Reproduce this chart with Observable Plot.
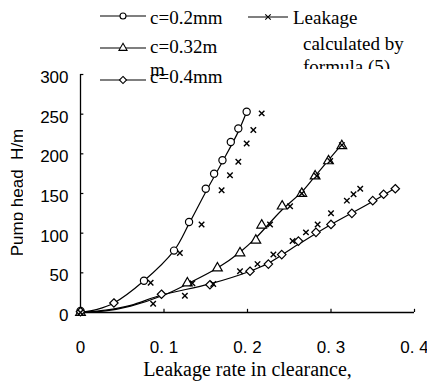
<!DOCTYPE html>
<html><head><meta charset="utf-8">
<script src="https://cdn.jsdelivr.net/npm/d3@7"></script>
<script src="https://cdn.jsdelivr.net/npm/@observablehq/plot@0.6"></script>
<style>
html,body{margin:0;padding:0;background:#fff;}
#wrap{position:relative;width:427px;height:382px;overflow:hidden;background:#fff;}
#wrap svg.plot{position:absolute;left:0;top:0;}
.lg{position:absolute;font-family:"Liberation Serif",serif;font-size:19px;color:#000;white-space:nowrap;line-height:1;}
.sym{position:absolute;}
</style></head>
<body><div id="wrap"></div>
<script>
// ---- data ----
const xTicks = [0, 0.1, 0.2, 0.3, 0.4];
const xTickLabels = ["0", "0. 1", "0. 2", "0. 3", "0. 4"];
const yTicks = [0, 50, 100, 150, 200, 250, 300];
const yTickLabels = ["0", "50", "100", "150", "200", "250", "300"];

const seriesNames = ["c=0.2mm", "c=0.32mm", "c=0.4mm", "Leakage calculated by formula (5)"];

// measured points c=0.2mm (circles)
const c02X = [0, 0.076, 0.112, 0.13, 0.15, 0.16, 0.17, 0.18, 0.189, 0.199];
const c02Y = [2, 40, 78, 114, 156, 175, 192, 215, 232, 253];
// measured points c=0.32mm (triangles)
const c032X = [0, 0.128, 0.164, 0.191, 0.21, 0.217, 0.2415, 0.265, 0.281, 0.297, 0.313];
const c032Y = [0, 37, 56, 75, 91, 110, 134, 150, 172, 191, 210];
// measured points c=0.4mm (diamonds)
const c04X = [0, 0.04, 0.097, 0.155, 0.203, 0.225, 0.241, 0.261, 0.282, 0.300, 0.325, 0.350, 0.363, 0.377];
const c04Y = [1, 12, 23, 35, 52, 61, 73, 90, 101, 111, 125, 141, 149, 156];
// leakage calculated by formula (5) (crosses)
const calcX = [0, 0.087, 0.084, 0.119, 0.145, 0.169, 0.179, 0.189, 0.199, 0.207, 0.217, 0.125, 0.134, 0.159, 0.191, 0.212, 0.231, 0.254, 0.270, 0.284, 0.300, 0.319, 0.327, 0.335, 0.227, 0.251, 0.265, 0.283, 0.299, 0.313];
const calcY = [0, 11, 37.5, 75, 111, 154, 173, 190, 213, 230, 251, 21, 37, 36, 52, 61, 73, 90, 101, 111, 125, 141, 149, 156, 111, 134, 150, 172, 191, 211];

// fitted curves
const fit02X = [0, 0.02, 0.04, 0.076, 0.112, 0.13, 0.15, 0.17, 0.189, 0.199];
const fit02Y = [0, 4, 12, 40, 78, 112, 152, 190, 228, 253];
const fit032X = [0, 0.03, 0.06, 0.1, 0.128, 0.164, 0.191, 0.21, 0.24, 0.265, 0.281, 0.297, 0.313];
const fit032Y = [0, 2, 8, 22, 36, 56, 76, 94, 128, 152, 172, 192, 212];
const fit04X = [0, 0.03, 0.06, 0.097, 0.155, 0.203, 0.225, 0.261, 0.3, 0.35, 0.377];
const fit04Y = [0, 3, 9, 22, 36, 52, 62, 86, 111, 140, 157];

const xLabel = "Leakage rate in clearance,";
const yLabel = "Pump head  H/m";

// ---- build ----
const pts = (xs, ys) => xs.map((x, i) => ({x, y: ys[i]}));
const c02 = pts(c02X, c02Y), c032 = pts(c032X, c032Y), c04 = pts(c04X, c04Y), calc = pts(calcX, calcY);
const f02 = pts(fit02X, fit02Y), f032 = pts(fit032X, fit032Y), f04 = pts(fit04X, fit04Y);

const chart = Plot.plot({
  width: 427, height: 382,
  marginLeft: 80, marginRight: 13, marginTop: 74, marginBottom: 70,
  x: {domain: [0, 0.4]},
  y: {domain: [0, 300]},
  style: {fontFamily: "Liberation Sans, Arial, sans-serif", background: "white", color: "black"},
  marks: [
    Plot.ruleX([0], {stroke: "black", strokeWidth: 1.3}),
    Plot.ruleY([0], {stroke: "black", strokeWidth: 1.3}),
    Plot.ruleY(yTicks, {y: d => d, x1: 0, x2: 0.004, stroke: "black", strokeWidth: 1.2}),
    Plot.ruleX(xTicks, {x: d => d, y1: 0, y2: 4, stroke: "black", strokeWidth: 1.2}),
    Plot.axisX(xTicks, {tickSize: 0, tickPadding: 28, fontSize: 17, label: null,
      tickFormat: d => xTickLabels[xTicks.indexOf(d)]}),
    Plot.axisY(yTicks, {tickSize: 0, tickPadding: 12, fontSize: 17, dy: 3, label: null,
      tickFormat: d => yTickLabels[yTicks.indexOf(d)]}),
    Plot.line(f02, {x: "x", y: "y", curve: "catmull-rom", stroke: "black", strokeWidth: 1.2}),
    Plot.line(f032, {x: "x", y: "y", curve: "catmull-rom", stroke: "black", strokeWidth: 1.2}),
    Plot.line(f04, {x: "x", y: "y", curve: "catmull-rom", stroke: "black", strokeWidth: 1.2}),
    Plot.dot(c02, {x: "x", y: "y", symbol: "circle", r: 3.6, stroke: "black", fill: "white", strokeWidth: 1.2}),
    Plot.dot(c032, {x: "x", y: "y", symbol: "triangle", r: 3.6, stroke: "black", fill: "white", strokeWidth: 1.2}),
    Plot.dot(c04, {x: "x", y: "y", symbol: "diamond2", r: 3.8, stroke: "black", fill: "white", strokeWidth: 1.2}),
    Plot.dot(calc, {x: "x", y: "y", symbol: "times", r: 2.6, stroke: "black", strokeWidth: 1.4}),
    Plot.text([xLabel], {frameAnchor: "bottom", dy: 63, fontSize: 20, fontFamily: "Liberation Serif, serif", text: d => d})
  ]
});
chart.classList.add("plot");
const wrap = document.getElementById("wrap");
wrap.appendChild(chart);

// ---- y label (clipped like the original) ----
const yl = document.createElement("div");
yl.style.cssText = "position:absolute;left:0;top:100px;width:23px;height:180px;overflow:hidden;";
const ylt = document.createElement("div");
ylt.textContent = yLabel;
ylt.style.cssText = "position:absolute;left:-58px;top:84px;width:150px;text-align:center;transform:rotate(-90deg);font-family:'Liberation Sans',Arial,sans-serif;font-size:17px;line-height:1;white-space:pre;";
yl.appendChild(ylt);
wrap.appendChild(yl);

// ---- legend ----
const symbols = ["circle", "triangle", "diamond2", "times"];
function legendKey(left, top, w, symName, r) {
  const s = d3.create("svg").attr("class", "sym").attr("width", w).attr("height", 12)
    .style("left", left + "px").style("top", (top - 6) + "px");
  s.append("line").attr("x1", 0).attr("x2", w).attr("y1", 6).attr("y2", 6).attr("stroke", "black").attr("stroke-width", 1.2);
  const map = {circle: d3.symbolCircle, triangle: d3.symbolTriangle, diamond2: d3.symbolDiamond2, times: d3.symbolTimes};
  s.append("path").attr("transform", `translate(${w/2},6)`)
    .attr("d", d3.symbol(map[symName], Math.PI * r * r)())
    .attr("fill", symName === "times" ? "none" : "white").attr("stroke", "black").attr("stroke-width", 1.1);
  wrap.appendChild(s.node());
}
function legendText(left, top, txt) {
  const d = document.createElement("div");
  d.className = "lg";
  d.style.left = left + "px"; d.style.top = top + "px";
  d.textContent = txt;
  wrap.appendChild(d);
  return d;
}
legendKey(100, 16, 46, symbols[0], 3);
legendText(150, 8, seriesNames[0]);
legendKey(100, 48, 46, symbols[1], 3);
// wrapped "c=0.32mm"
legendText(150, 37, "c=0.32m");
legendText(150, 60, "m");
legendKey(100, 80, 46, symbols[2], 3.2);
legendText(150, 67, seriesNames[2]);
legendKey(248, 17, 40, symbols[3], 2.6);
const lw = seriesNames[3].split(" ");
legendText(293, 8, lw[0]);
legendText(303, 34, lw[1] + " " + lw[2]);
const fc = document.createElement("div");
fc.style.cssText = "position:absolute;left:303px;top:58px;width:120px;height:11px;overflow:hidden;";
const ft = document.createElement("div");
ft.className = "lg"; ft.style.left = "0px"; ft.style.top = "-1px";
ft.textContent = lw[3] + " " + lw[4];
fc.appendChild(ft);
wrap.appendChild(fc);
</script>
</body></html>
